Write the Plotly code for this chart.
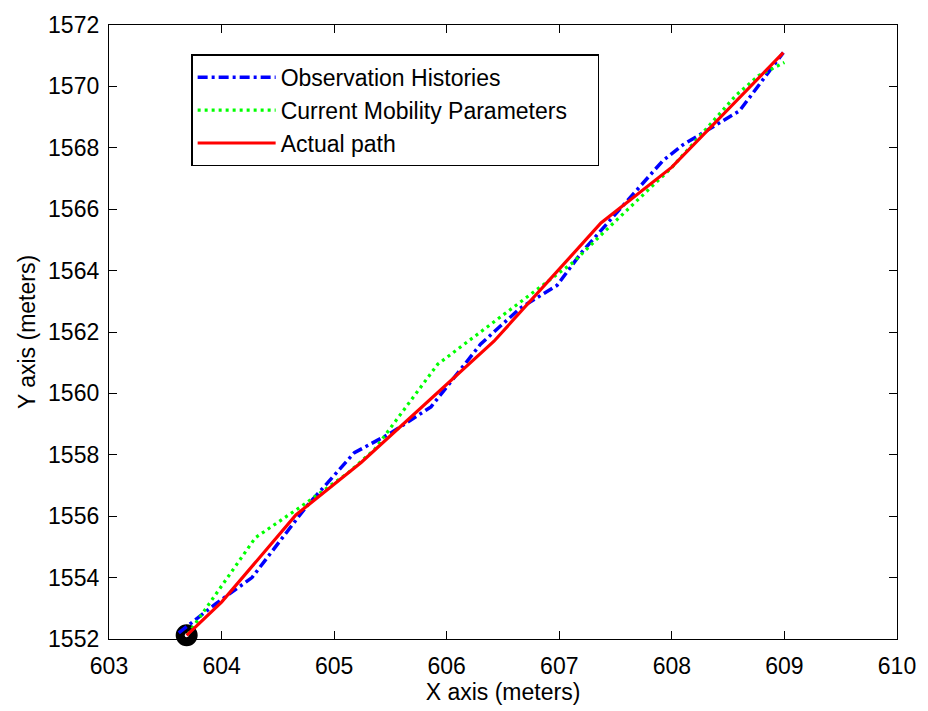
import plotly.graph_objects as go

# Observation Histories (blue dash-dot)
obs_x = [603.62, 603.95, 604.27, 604.75, 605.18, 605.5, 605.86, 606.3, 606.65, 606.98, 607.2, 607.92, 608.1, 608.6, 608.99]
obs_y = [1552.2, 1553.15, 1554.0, 1556.3, 1558.07, 1558.7, 1559.56, 1561.6, 1562.77, 1563.52, 1564.6, 1567.58, 1568.1, 1569.2, 1571.1]

# Current Mobility Parameters (green dotted)
cur_x = [603.7, 604.3, 604.7, 605.13, 605.36, 605.92, 606.3, 606.74, 607.12, 607.45, 608.0, 608.57, 608.77, 609.0]
cur_y = [1552.15, 1555.3, 1556.3, 1557.43, 1558.18, 1560.95, 1562.0, 1563.2, 1564.26, 1565.44, 1567.36, 1569.71, 1570.35, 1570.78]

# Actual path (red solid)
act_x = [603.69, 604.0, 604.66, 605.24, 606.42, 607.37, 608.0, 608.99]
act_y = [1552.12, 1553.2, 1556.04, 1557.75, 1561.70, 1565.55, 1567.37, 1571.1]

# Start point marker
start_x = [603.69]
start_y = [1552.12]

x_ticks = [603, 604, 605, 606, 607, 608, 609, 610]
y_ticks = [1552, 1554, 1556, 1558, 1560, 1562, 1564, 1566, 1568, 1570, 1572]

FONT = "Liberation Sans, Arial, sans-serif"
FS = 23
PAD = "\u00a0" * 4

fig = go.Figure()
fig.add_trace(go.Scatter(x=start_x, y=start_y, mode="markers", showlegend=False, cliponaxis=False,
                         marker=dict(symbol="circle-open", size=13, color="black",
                                     line=dict(width=9, color="black"))))
fig.add_trace(go.Scatter(x=obs_x, y=obs_y, mode="lines", name="Observation Histories",
                         line=dict(color="#0000FF", width=3.5, dash="10px,4px,3px,4px")))
fig.add_trace(go.Scatter(x=cur_x, y=cur_y, mode="lines", name="Current Mobility Parameters" + PAD,
                         line=dict(color="#00FF00", width=3.2, dash="3px,4px")))
fig.add_trace(go.Scatter(x=act_x, y=act_y, mode="lines", name="Actual path",
                         line=dict(color="#FF0000", width=3.2)))

axis_common = dict(showgrid=False, zeroline=False, showline=True, linecolor="black",
                   linewidth=1.3, mirror="ticks", ticks="inside", ticklen=8,
                   tickcolor="black", tickwidth=1.3,
                   tickfont=dict(family=FONT, size=FS, color="black"))

fig.update_xaxes(range=[603, 610], tickvals=x_ticks, ticktext=[str(v) for v in x_ticks],
                 title=dict(text="X axis (meters)", font=dict(family=FONT, size=FS, color="black"),
                            standoff=4),
                 ticklabelstandoff=6, **axis_common)
fig.update_yaxes(range=[1552, 1572], tickvals=y_ticks, ticktext=[str(v) for v in y_ticks],
                 title=dict(text="Y axis (meters)", font=dict(family=FONT, size=FS, color="black"),
                            standoff=6),
                 ticklabelstandoff=4, **axis_common)

fig.update_layout(
    width=928, height=711,
    margin=dict(l=109, r=26, t=17, b=69),
    plot_bgcolor="white", paper_bgcolor="white",
    font=dict(family=FONT, size=FS, color="black"),
    legend=dict(x=0.1045, y=0.952, xanchor="left", yanchor="top",
                bordercolor="black", borderwidth=1.3, bgcolor="white",
                font=dict(family=FONT, size=FS, color="black"),
                itemwidth=78, tracegroupgap=0),
)

fig.write_html("out.html")
